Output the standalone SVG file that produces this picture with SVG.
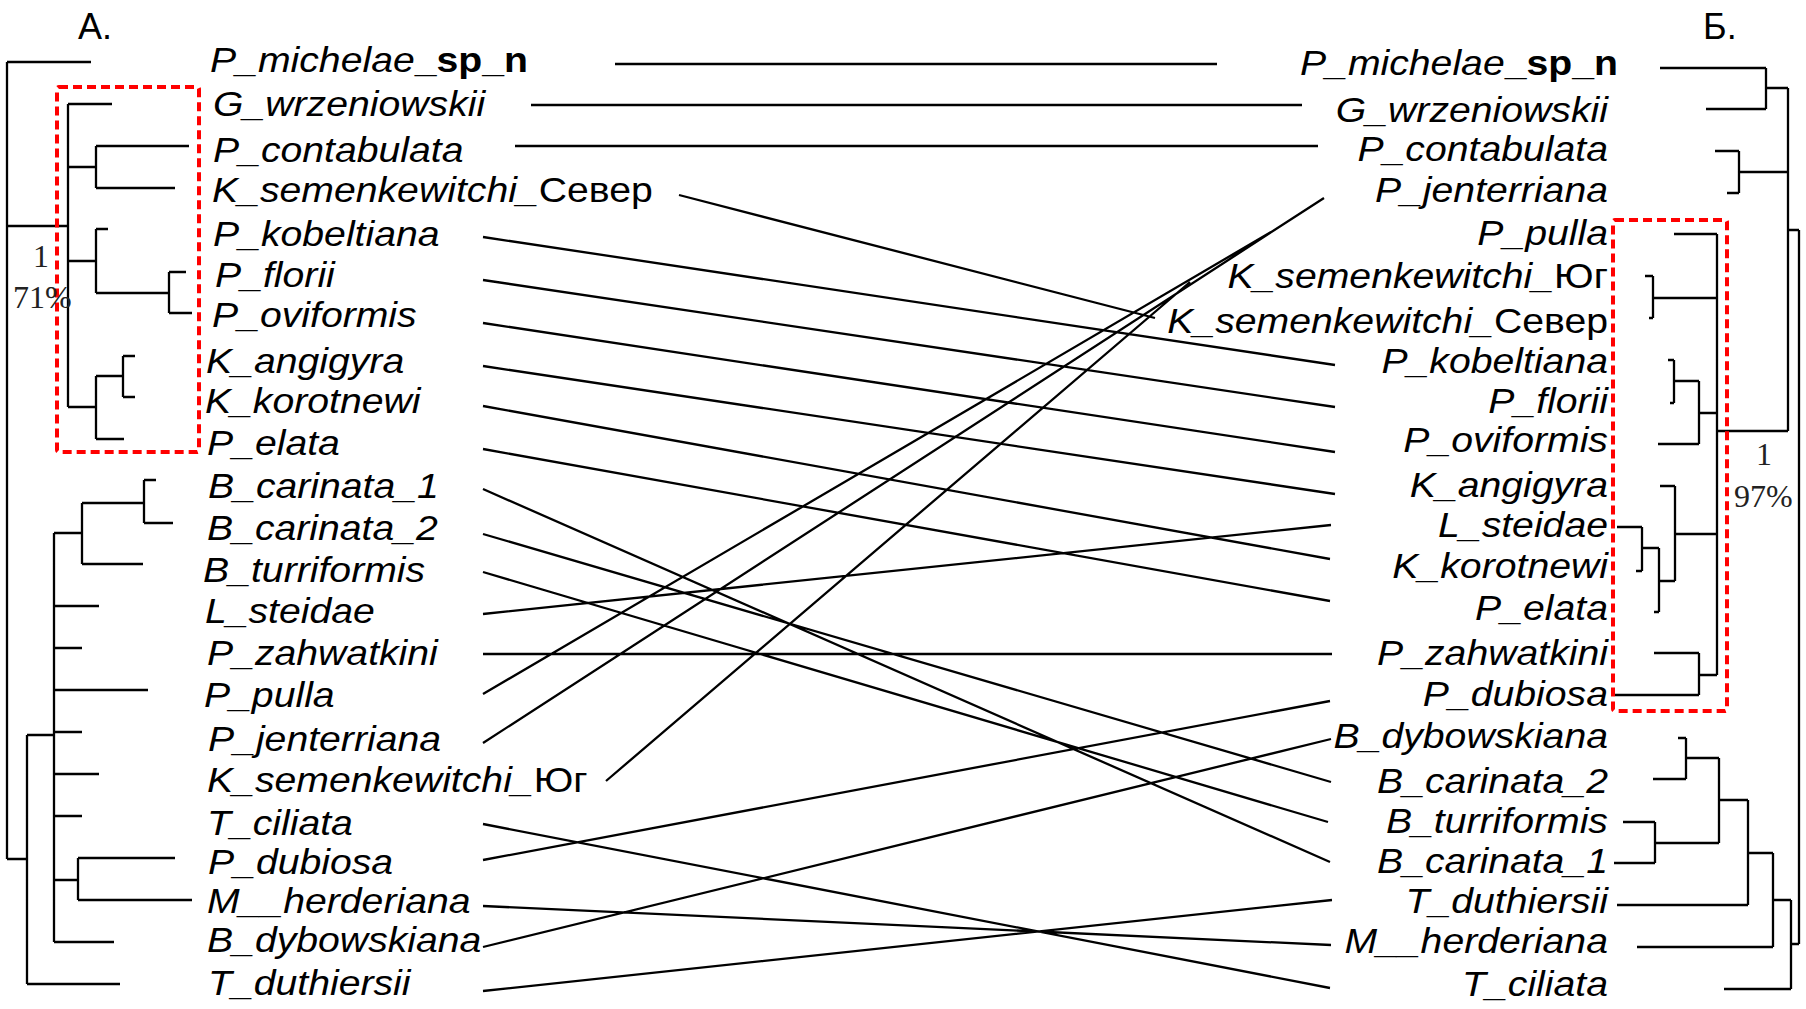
<svg xmlns="http://www.w3.org/2000/svg" width="1806" height="1009" viewBox="0 0 1806 1009">
<style>
.t{fill:none;stroke:#000;stroke-width:2.3}
.c{fill:none;stroke:#000;stroke-width:2.3}
.box{fill:none;stroke:#f00;stroke-width:4;stroke-dasharray:9 5}
.lb{font-family:"Liberation Sans",Arial,sans-serif;font-size:35px;font-style:italic;fill:#000}
.r{text-anchor:end}
.bd{font-weight:bold;font-style:normal}
.up{font-style:normal}
.hd{font-family:"Liberation Sans",Arial,sans-serif;font-size:36px;fill:#000}
.sup{font-family:"Liberation Serif","Times New Roman",serif;font-size:32px;fill:#222}
</style>
<rect width="1806" height="1009" fill="#fff"/>
<text class="hd" x="78" y="39">A.</text>
<text class="hd" x="1703" y="39">Б.</text>

<g id="treeA">
<path class="t" d="M7,62V859M7,62H91M7,226H68M7,859H27"/>
<path class="t" d="M68,104V407M68,104H112M68,167H96M96,146V188M96,146H189M96,188H175M68,261H96M96,229V293M96,229H108M96,293H169M169,272V313M169,272H186M169,313H192M68,407H96M96,376V439M96,439H124M96,376H123M123,356V397M123,356H135M123,397H135"/>
<path class="t" d="M27,735V984M27,735H54M27,984H120M54,533V942M54,533H82M82,503V564M82,564H143M82,503H144M144,480V523M144,480H156M144,523H173M54,606H99M54,648H82M54,690H148M54,732H82M54,774H99M54,816H82M54,880H78M78,858V900M78,858H175M78,900H192M54,942H114"/>
<rect class="box" x="57" y="87" width="142" height="365" rx="2"/>
<text class="sup" x="41" y="267" text-anchor="middle">1</text>
<text class="sup" x="13" y="308">71%</text>
</g>

<g id="treeB">
<path class="t" d="M1660,68H1766M1706,109H1766M1766,68V109M1766,88H1788M1788,88V431M1715,151H1739M1727,193H1739M1739,151V193M1739,172H1788M1788,230H1799M1799,230V944"/>
<path class="t" d="M1717,431H1788M1717,234V675M1674,234H1717M1645,276H1653M1649,318H1653M1653,276V318M1653,298H1717M1668,360H1674M1670,403H1674M1674,360V403M1674,381H1699M1699,381V444M1658,444H1699M1699,413H1717M1660,486H1675M1675,486V581M1675,534H1717M1659,581H1675M1659,548V612M1654,612H1659M1642,548H1659M1642,527V571M1617,527H1642M1636,571H1642M1654,653H1699M1615,695H1699M1699,653V695M1699,675H1717"/>
<path class="t" d="M1678,738H1686M1686,738V779M1653,779H1686M1686,758H1719M1623,822H1655M1614,863H1655M1655,822V863M1655,843H1719M1719,758V843M1719,800H1748M1617,905H1748M1748,800V905M1748,853H1773M1637,947H1773M1773,853V947M1773,900H1791M1724,989H1791M1791,900V989M1791,944H1799"/>
<rect class="box" x="1613" y="220" width="114" height="491" rx="2"/>
<text class="sup" x="1764" y="465" text-anchor="middle">1</text>
<text class="sup" x="1734" y="507">97%</text>
</g>

<g id="labelsA" transform="scale(1.12,1)">
<text class="lb" x="187.5" y="72">P_michelae<tspan class="bd">_sp_n</tspan></text>
<text class="lb" x="190.2" y="116">G_wrzeniowskii</text>
<text class="lb" x="190.2" y="162">P_contabulata</text>
<text class="lb" x="189.3" y="202">K_semenkewitchi_<tspan class="up">Север</tspan></text>
<text class="lb" x="190.2" y="246">P_kobeltiana</text>
<text class="lb" x="192" y="287">P_florii</text>
<text class="lb" x="189.3" y="327">P_oviformis</text>
<text class="lb" x="183.9" y="373">K_angigyra</text>
<text class="lb" x="183" y="413">K_korotnewi</text>
<text class="lb" x="184.8" y="455">P_elata</text>
<text class="lb" x="185.7" y="498">B_carinata_1</text>
<text class="lb" x="184.8" y="540">B_carinata_2</text>
<text class="lb" x="181.3" y="582">B_turriformis</text>
<text class="lb" x="183" y="623">L_steidae</text>
<text class="lb" x="184.8" y="665">P_zahwatkini</text>
<text class="lb" x="182.1" y="707">P_pulla</text>
<text class="lb" x="185.7" y="751">P_jenterriana</text>
<text class="lb" x="184.8" y="792">K_semenkewitchi_<tspan class="up">Юг</tspan></text>
<text class="lb" x="184.8" y="835">T_ciliata</text>
<text class="lb" x="185.7" y="874">P_dubiosa</text>
<text class="lb" x="184.8" y="913">M__herderiana</text>
<text class="lb" x="184.8" y="952">B_dybowskiana</text>
<text class="lb" x="185.7" y="995">T_duthiersii</text>
</g>

<g id="labelsB" transform="scale(1.12,1)">
<text class="lb r" x="1444.6" y="75">P_michelae<tspan class="bd">_sp_n</tspan></text>
<text class="lb r" x="1435.7" y="122">G_wrzeniowskii</text>
<text class="lb r" x="1435.7" y="161">P_contabulata</text>
<text class="lb r" x="1435.7" y="202">P_jenterriana</text>
<text class="lb r" x="1435.7" y="245">P_pulla</text>
<text class="lb r" x="1435.7" y="288">K_semenkewitchi_<tspan class="up">Юг</tspan></text>
<text class="lb r" x="1435.7" y="333">K_semenkewitchi_<tspan class="up">Север</tspan></text>
<text class="lb r" x="1435.7" y="373">P_kobeltiana</text>
<text class="lb r" x="1435.7" y="413">P_florii</text>
<text class="lb r" x="1435.7" y="452">P_oviformis</text>
<text class="lb r" x="1435.7" y="497">K_angigyra</text>
<text class="lb r" x="1435.7" y="537">L_steidae</text>
<text class="lb r" x="1435.7" y="578">K_korotnewi</text>
<text class="lb r" x="1435.7" y="620">P_elata</text>
<text class="lb r" x="1435.7" y="665">P_zahwatkini</text>
<text class="lb r" x="1435.7" y="706">P_dubiosa</text>
<text class="lb r" x="1435.7" y="748">B_dybowskiana</text>
<text class="lb r" x="1435.7" y="793">B_carinata_2</text>
<text class="lb r" x="1435.7" y="833">B_turriformis</text>
<text class="lb r" x="1435.7" y="873">B_carinata_1</text>
<text class="lb r" x="1435.7" y="913">T_duthiersii</text>
<text class="lb r" x="1435.7" y="953">M__herderiana</text>
<text class="lb r" x="1435.7" y="996">T_ciliata</text>
</g>

<g id="connectors">
<path class="c" d="M615,64L1217,64M531,105L1302,105M515,146L1318,146M679,195L1155,318M483,237L1335,365M483,280L1335,407M483,323L1335,452M483,366L1335,494M483,406L1330,559M483,449L1330,601M483,489L1330,862M483,534L1331,782M483,572L1328,822M483,614L1331,525M483,654L1332,654M483,694L1271,232M483,743L1324,198M606,781L1190,282M483,824L1330,988M483,860L1330,701M483,906L1331,945M483,947L1331,739M483,991L1332,900"/>
</g>
</svg>
